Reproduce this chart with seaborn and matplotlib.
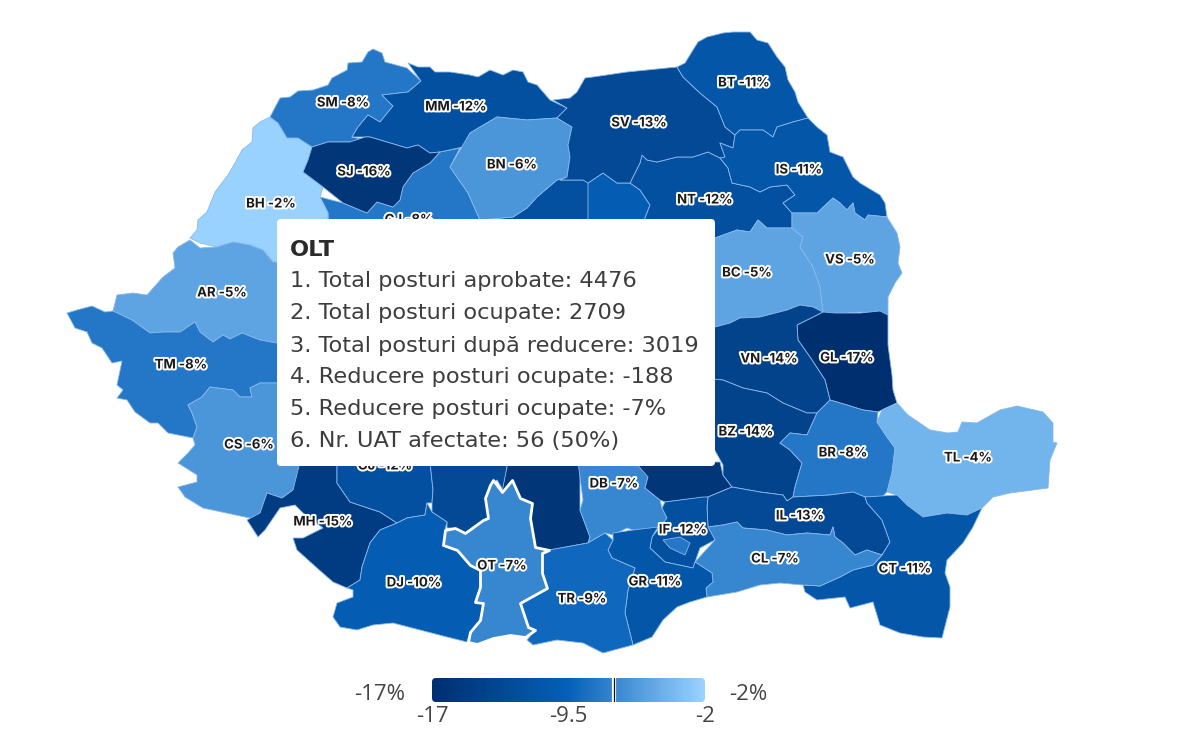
"""Romania county map: staff reduction per county, with the OLT tooltip open."""

import matplotlib
matplotlib.use("Agg")
import matplotlib.pyplot as plt
import matplotlib.patheffects as pe
from matplotlib.collections import PolyCollection
from matplotlib.patches import FancyBboxPatch
import numpy as np
import pandas as pd
import seaborn as sns

# values; MS, AG, PH, VL and B have no readable label, colour estimate
COUNTIES = ["MS", "HR", "NT", "CJ", "BH", "AR", "TM", "CS", "MH", "GJ", "VL", "AG", "DB", "PH",
            "SM", "MM", "BN", "SJ", "SV", "BT", "IS", "BC", "VS", "GL", "VN", "BZ", "BR",
            "TL", "IL", "CT", "CL", "IF", "B", "GR", "TR", "DJ", "OT"]
REDUCTION = [-12, -10, -12, -8, -2, -5, -8, -6, -15, -12, -13, -16, -7, -16,
             -8, -12, -6, -16, -13, -11, -11, -5, -5, -17, -14, -14, -8,
             -4, -13, -11, -7, -12, -8, -11, -9, -10, -7]

# county outlines, traced in reference pixels; the ones fully under the tooltip are left out
OUTLINES = {
    "MS": [(567,177),(557,180),(537,197),(527,208),(513,217),(480,220),(480,260),(590,260),(590,183),(583,180),(560,180)],
    "HR": [(588,183),(603,173),(617,183),(630,183),(640,190),(650,205),(645,218),(640,260),(588,260)],
    "NT": [(642,155),(647,160),(657,162),(677,157),(693,157),(708,152),(720,158),(728,168),(732,183),(750,187),(760,192),(770,187),(787,185),(795,195),(783,203),(792,213),(792,228),(767,228),(758,220),(750,232),(737,230),(715,238),(715,260),(640,260),(645,218),(650,205),(640,190),(630,183),(640,163)],
    "CJ": [(440,152),(460,148),(450,167),(468,193),(480,220),(480,250),(330,250),(328,213),(320,197),(343,203),(367,213),(377,202),(393,207),(400,200),(403,187),(413,173),(430,163)],
    "BH": [(270,117),(278,123),(287,138),(298,138),(312,147),(308,160),(303,172),(323,187),(320,197),(328,213),(327,225),(300,262),(273,262),(263,250),(250,245),(233,242),(217,247),(200,243),(190,238),(197,230),(198,220),(207,212),(215,192),(228,175),(235,163),(242,150),(252,142),(253,128),(260,122)],
    "AR": [(190,240),(200,248),(217,247),(233,242),(250,245),(263,250),(273,262),(300,262),(300,343),(277,343),(260,340),(242,333),(230,339),(223,335),(213,342),(200,332),(195,322),(180,332),(163,332),(150,333),(132,320),(113,311),(117,295),(133,293),(147,295),(163,277),(175,268),(173,253),(178,247)],
    "TM": [(67,313),(77,310),(92,306),(105,312),(113,311),(132,320),(150,333),(163,332),(180,332),(195,322),(200,332),(213,342),(223,335),(230,339),(242,333),(260,340),(277,343),(300,343),(300,383),(277,383),(260,383),(250,388),(252,397),(240,397),(233,390),(210,387),(202,397),(188,405),(192,413),(197,427),(193,438),(168,433),(158,423),(150,423),(135,412),(127,400),(117,398),(123,390),(117,385),(122,361),(112,363),(102,348),(92,343),(87,332),(75,328)],
    "CS": [(300,383),(277,383),(260,383),(250,388),(252,397),(240,397),(233,390),(210,387),(202,397),(188,405),(192,413),(197,427),(193,438),(195,445),(188,453),(178,463),(197,475),(197,482),(178,487),(185,497),(203,508),(245,517),(260,520),(260,513),(267,493),(282,498),(293,490),(300,467)],
    "MH": [(247,520),(260,513),(267,493),(282,498),(293,490),(300,462),(337,462),(337,483),(350,502),(380,512),(397,523),(380,530),(370,543),(362,567),(360,580),(347,588),(333,582),(317,568),(297,550),(293,538),(303,538),(323,528),(303,513),(295,505),(280,508),(265,530),(258,537)],
    "GJ": [(337,462),(430,462),(433,490),(432,503),(427,503),(425,515),(407,518),(397,523),(380,512),(350,502),(337,483)],
    "VL": [(430,462),(508,462),(503,490),(497,480),(490,485),(485,498),(488,518),(483,520),(465,533),(455,528),(447,528),(447,522),(432,512),(432,503),(433,490)],
    "AG": [(508,462),(580,462),(580,510),(590,537),(588,543),(550,550),(535,547),(530,518),(532,503),(520,498),(512,480),(502,492)],
    "DB": [(578,462),(640,462),(648,477),(645,488),(660,500),(662,508),(667,518),(660,530),(633,530),(627,528),(613,535),(605,533),(588,543),(590,537),(580,510),(583,500)],
    "PH": [(635,462),(720,462),(723,475),(732,487),(708,497),(665,502),(660,500),(645,488),(648,477)],
    "SM": [(270,117),(280,98),(290,97),(298,91),(313,90),(328,85),(332,78),(347,70),(348,63),(362,62),(368,52),(373,49),(382,53),(385,62),(407,68),(421,81),(408,92),(382,95),(393,106),(380,122),(368,115),(358,127),(352,137),(365,140),(360,148),(350,142),(328,142),(312,147),(298,138),(287,138),(278,123)],
    "MM": [(408,63),(418,67),(430,67),(435,72),(450,72),(470,75),(478,77),(490,70),(503,75),(513,70),(523,72),(528,82),(537,85),(550,100),(567,108),(557,118),(527,120),(497,117),(470,133),(463,147),(440,152),(430,153),(418,145),(407,148),(370,137),(352,137),(358,127),(368,115),(380,122),(393,106),(382,95),(408,92),(421,81)],
    "BN": [(497,117),(527,120),(557,118),(572,127),(568,145),(570,157),(567,177),(557,180),(537,197),(527,208),(513,217),(480,220),(468,193),(450,167),(460,150),(470,133)],
    "SJ": [(312,147),(328,142),(350,142),(365,137),(370,137),(407,148),(418,145),(430,153),(440,152),(430,163),(413,173),(403,187),(400,200),(393,207),(377,202),(367,213),(343,203),(323,187),(303,172),(308,160)],
    "SV": [(553,100),(570,98),(577,92),(585,78),(593,77),(627,72),(647,70),(677,67),(683,77),(700,93),(717,107),(725,127),(735,135),(733,148),(720,143),(725,157),(720,158),(708,152),(693,157),(677,157),(657,162),(647,160),(642,155),(640,163),(630,183),(617,183),(603,173),(588,183),(583,180),(560,180),(567,177),(570,157),(568,145),(572,127),(557,118),(567,108)],
    "BT": [(677,67),(685,63),(693,50),(698,42),(707,37),(723,33),(733,32),(750,32),(757,40),(768,43),(777,57),(785,67),(788,80),(795,92),(798,102),(808,118),(793,122),(777,127),(773,137),(763,130),(740,130),(735,135),(725,127),(717,107),(700,93),(683,77)],
    "IS": [(735,135),(740,130),(763,130),(773,137),(777,127),(793,122),(808,118),(817,127),(827,135),(830,152),(843,157),(853,177),(860,183),(880,195),(885,203),(887,217),(868,215),(865,220),(855,213),(853,203),(847,210),(840,203),(833,198),(817,213),(792,213),(783,203),(795,195),(787,185),(770,187),(760,192),(750,187),(732,183),(728,168),(720,158),(725,157),(720,143),(733,148)],
    "BC": [(715,238),(737,230),(750,232),(758,220),(767,228),(792,228),(803,237),(800,247),(813,267),(820,287),(823,312),(813,307),(800,305),(787,310),(760,317),(740,318),(730,323),(715,327),(690,327),(690,238)],
    "VS": [(792,213),(817,213),(833,198),(840,203),(847,210),(853,203),(855,213),(865,220),(868,215),(887,217),(897,233),(900,247),(898,263),(902,273),(895,283),(888,297),(888,315),(877,315),(862,312),(847,313),(835,315),(837,322),(832,330),(827,322),(823,312),(820,287),(813,267),(800,247),(803,237),(792,228)],
    "GL": [(797,325),(823,312),(835,313),(860,313),(880,311),(888,315),(888,345),(892,375),(893,390),(897,403),(882,410),(878,412),(863,410),(847,405),(830,400),(825,380),(812,360),(798,340)],
    "VN": [(700,327),(715,327),(730,323),(740,318),(760,317),(787,310),(800,305),(813,307),(823,312),(797,325),(798,340),(812,360),(825,380),(830,400),(817,413),(807,413),(783,403),(767,393),(743,388),(723,380),(700,378)],
    "BZ": [(700,378),(723,380),(743,388),(767,393),(783,403),(807,413),(817,413),(807,435),(790,433),(780,443),(790,450),(802,463),(795,487),(793,497),(787,501),(783,495),(760,492),(732,487),(723,475),(723,465),(713,447),(700,440)],
    "BR": [(780,443),(790,433),(807,435),(817,413),(830,400),(847,405),(863,410),(878,412),(877,422),(887,437),(895,448),(892,473),(887,492),(882,497),(865,497),(853,492),(830,495),(793,497),(795,487),(802,463),(790,450)],
    "TL": [(877,422),(882,410),(897,403),(908,415),(930,430),(948,433),(958,432),(962,422),(977,423),(1000,410),(1017,406),(1043,412),(1053,423),(1053,442),(1057,443),(1050,460),(1048,488),(1010,493),(993,497),(982,508),(967,515),(947,513),(923,517),(907,505),(897,495),(887,492),(892,473),(895,448),(887,437)],
    "IL": [(708,497),(732,487),(760,492),(783,495),(787,501),(793,497),(830,495),(853,492),(865,497),(867,503),(882,520),(890,542),(882,555),(867,550),(855,555),(843,543),(835,537),(833,527),(830,535),(807,533),(787,535),(767,530),(743,528),(737,522),(723,525),(708,527),(707,507)],
    "CT": [(865,497),(897,495),(907,505),(923,517),(947,513),(967,515),(982,508),(973,527),(963,543),(947,560),(945,573),(950,587),(950,607),(942,638),(923,637),(900,633),(880,625),(873,602),(850,608),(845,597),(817,600),(805,592),(803,585),(820,586),(840,577),(853,570),(873,565),(882,555),(890,542),(882,520),(867,503)],
    "CL": [(695,562),(715,540),(713,537),(708,527),(723,525),(737,522),(743,528),(767,530),(787,535),(807,533),(830,535),(833,527),(835,537),(843,543),(855,555),(867,550),(882,555),(873,565),(853,570),(840,577),(820,586),(803,585),(780,583),(760,585),(737,592),(707,597),(706,588),(713,582),(712,573)],
    "IF": [(665,502),(703,497),(708,497),(707,507),(708,527),(715,540),(700,548),(693,568),(665,562),(650,548),(652,537),(660,527),(667,518),(662,508)],
    "B": [(663,540),(680,537),(690,543),(685,555),(670,548)],
    "GR": [(613,533),(633,530),(658,527),(652,537),(650,548),(665,562),(693,568),(695,562),(712,573),(713,582),(706,588),(707,597),(690,602),(677,607),(663,620),(652,637),(633,645),(625,613),(628,590),(635,568),(612,558),(608,550),(613,540)],
    "TR": [(549,550),(588,543),(605,533),(613,540),(608,550),(612,558),(635,568),(628,590),(625,613),(633,645),(603,653),(583,643),(557,640),(533,645),(527,640),(535,630),(528,627),(520,603),(547,588),(542,573),(542,553)],
    "DJ": [(397,523),(407,518),(425,515),(427,503),(432,512),(447,522),(445,530),(443,545),(457,550),(470,565),(480,570),(480,587),(475,602),(483,603),(480,620),(470,632),(467,642),(447,637),(420,630),(393,623),(373,625),(357,630),(340,627),(333,617),(337,603),(353,597),(353,590),(347,588),(360,580),(362,567),(370,543),(380,530)],
    "OT": [(493,480),(502,492),(512,480),(520,498),(532,503),(530,518),(535,547),(549,550),(542,553),(542,573),(547,588),(520,603),(528,627),(535,630),(525,637),(510,635),(493,638),(477,644),(468,642),(470,632),(480,620),(483,603),(475,602),(480,587),(480,570),(470,565),(457,550),(443,545),(445,530),(455,528),(465,533),(483,520),(488,518),(485,498),(490,485)],
}

# label centres for the counties with a visible label
LABEL_CODES = ["SM", "MM", "SJ", "BH", "BN", "AR", "TM", "CS", "MH", "DJ", "OT", "TR", "GR", "IF", "DB",
               "BZ", "BR", "TL", "IL", "CL", "CT", "BC", "VS", "VN", "GL", "NT", "IS", "SV", "BT", "CJ", "GJ"]
LABEL_X = [343, 456, 364, 271, 512, 222, 181, 249, 323, 414, 502, 582, 655, 683, 614,
           746, 843, 968, 800, 775, 905, 747, 850, 769, 847, 705, 799, 639, 744, 409, 385]
LABEL_Y = [102, 106, 171, 203, 164, 292, 364, 444, 521, 582, 565, 598, 581, 529, 483,
           431, 452, 457, 515, 558, 568, 272, 259, 358, 357, 199, 169, 122, 82, 219, 465]

TOOLTIP_TITLE = "OLT"
TOOLTIP_LINES = [
    "1. Total posturi aprobate: 4476",
    "2. Total posturi ocupate: 2709",
    "3. Total posturi după reducere: 3019",
    "4. Reducere posturi ocupate: -188",
    "5. Reducere posturi ocupate: -7%",
    "6. Nr. UAT afectate: 56 (50%)",
]
SCALE_MIN, SCALE_MID, SCALE_MAX = -17, -9.5, -2
HIGHLIGHT_VALUE = -7

sns.set_theme(style="white")
plt.rcParams["font.family"] = ["Open Sans", "DejaVu Sans"]

cmap = sns.blend_palette(["#002f6f", "#0560b8", "#9ad2ff"], as_cmap=True)
norm = plt.Normalize(SCALE_MIN, SCALE_MAX)
df = pd.DataFrame({"code": COUNTIES, "reduction": REDUCTION})

fig = plt.figure(figsize=(11.96, 7.5), dpi=100)
ax = fig.add_axes([0, 0, 1, 1])
ax.set_xlim(0, 1196)
ax.set_ylim(750, 0)
ax.axis("off")

regular = df[df["code"] != "OT"]
polys = PolyCollection([OUTLINES[c] for c in regular["code"]], array=regular["reduction"].to_numpy(float),
                       cmap=cmap, norm=norm, edgecolors="#8ab8ea", linewidths=0.6, zorder=2)
ax.add_collection(polys)

# the hovered county gets a thick white outline, on top of its neighbours
ot_value = df.loc[df["code"] == "OT", "reduction"].iloc[0]
ax.add_collection(PolyCollection([OUTLINES["OT"]], facecolors=[cmap(norm(ot_value))],
                                 edgecolors="white", linewidths=2.0, zorder=3))

values = df.set_index("code")["reduction"]
halo = [pe.withStroke(linewidth=2.8, foreground="white")]
for code, x, y in zip(LABEL_CODES, LABEL_X, LABEL_Y):
    ax.text(x, y, f"{code} {values[code]}%", ha="center", va="center_baseline", fontsize=9.5, family="Inter",
            fontweight="bold", color="#1a1a1a", path_effects=halo, zorder=4)

# tooltip
ax.add_patch(FancyBboxPatch((279, 221), 434, 243, boxstyle="round,pad=2,rounding_size=4",
                            facecolor="#555555", edgecolor="none", alpha=0.12, zorder=5))
ax.add_patch(FancyBboxPatch((279, 221), 434, 243, boxstyle="round,pad=2,rounding_size=4",
                            facecolor="white", edgecolor="none", zorder=6))
ax.text(290, 256, TOOLTIP_TITLE, fontsize=16.2, fontweight="bold", family="DejaVu Sans", color="#2b2b2b",
        va="baseline", zorder=7)
for line, baseline in zip(TOOLTIP_LINES, [287, 319, 352, 383, 415, 447]):
    ax.text(290, baseline, line, fontsize=16.2, family="DejaVu Sans", color="#3d3d3d", va="baseline", zorder=7)

# colour scale
bar_ax = fig.add_axes([432 / 1196, 1 - 702 / 750, 273 / 1196, 24 / 750])
gradient = np.linspace(SCALE_MIN, SCALE_MAX, 273).reshape(1, -1)
sns.heatmap(gradient, cmap=cmap, norm=norm, cbar=False, ax=bar_ax, xticklabels=False, yticklabels=False)
bar_clip = FancyBboxPatch((4, 4 / 24), 265, 16 / 24, boxstyle="round,pad=4,rounding_size=4", mutation_aspect=1 / 24,
                          transform=bar_ax.transData, facecolor="none", edgecolor="none")
bar_ax.add_patch(bar_clip)
bar_ax.collections[0].set_clip_path(bar_clip)
bar_ax.axis("off")
marker_x = (HIGHLIGHT_VALUE - SCALE_MIN) / (SCALE_MAX - SCALE_MIN) * 273
bar_ax.axvline(marker_x, color="white", lw=3)
bar_ax.axvline(marker_x, color="#111111", lw=0.9)

ax.text(380, 694, f"{SCALE_MIN}%", ha="center", va="center", fontsize=16, color="#444444")
ax.text(748, 694, f"{SCALE_MAX}%", ha="center", va="center", fontsize=16, color="#444444")
for value in [SCALE_MIN, SCALE_MID, SCALE_MAX]:
    ax.text(432 + norm(value) * 273, 716, f"{value:g}", ha="center", va="center", fontsize=16, color="#444444")

fig.savefig("out.png", dpi=100)
